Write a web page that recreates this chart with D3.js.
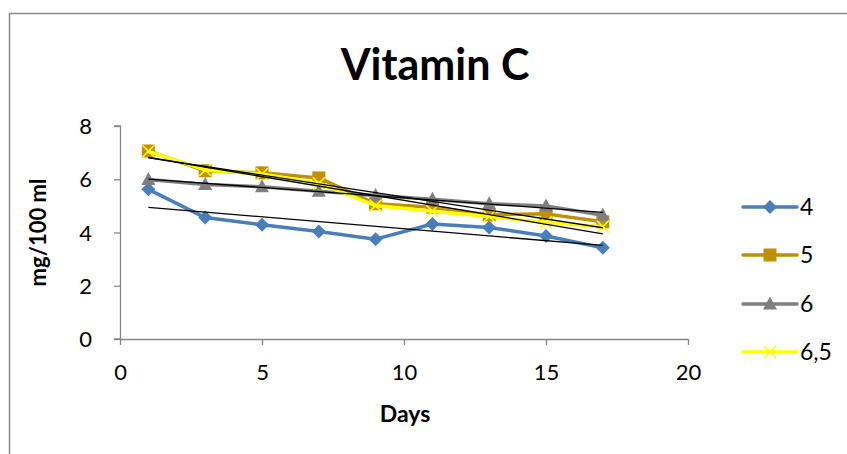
<!DOCTYPE html>
<html>
<head>
<meta charset="utf-8">
<script src="https://cdn.jsdelivr.net/npm/d3@7"></script>
<style>
  html, body { margin: 0; padding: 0; background: #fff; }
  svg { display: block; }
  text { font-family: Lato, "Open Sans", sans-serif; fill: #000; }
</style>
</head>
<body>
<svg id="chart" width="847" height="454"></svg>
<script>
// Storage days and vitamin C content (mg/100 ml) for each pH level
const days = [1, 3, 5, 7, 9, 11, 13, 15, 17];
const seriesNames = ["4", "5", "6", "6,5"];
const ph4  = [5.62, 4.56, 4.29, 4.04, 3.75, 4.32, 4.19, 3.87, 3.43];
const ph5  = [7.06, 6.32, 6.24, 6.05, 5.08, 4.95, 4.66, 4.70, 4.40];
const ph6  = [5.99, 5.80, 5.72, 5.55, 5.39, 5.25, 5.08, 5.00, 4.65];
const ph65 = [7.05, 6.35, 6.20, 5.85, 5.01, 4.80, 4.60, 4.38, 4.22];
const xTicks = [0, 5, 10, 15, 20];
const yTicks = [0, 2, 4, 6, 8];

const seriesValues = [ph4, ph5, ph6, ph65];
const colors = ["#4A7EBB", "#BF9000", "#7F7F7F", "#FFFF00"];
const markers = ["diamond", "square", "triangle", "cross"];

const svg = d3.select("#chart");

// outer chart frame
svg.append("rect")
  .attr("x", 9.5).attr("y", 13.5)
  .attr("width", 900).attr("height", 500)
  .attr("fill", "none").attr("stroke", "#8C8C8C").attr("stroke-width", 1.5);

const x = d3.scaleLinear().domain([0, 20]).range([120, 688]);
const y = d3.scaleLinear().domain([0, 8]).range([339, 126]);

// title
svg.append("text")
  .attr("x", 435).attr("y", 80)
  .attr("text-anchor", "middle")
  .attr("font-size", 43).attr("font-weight", "bold")
  .text("Vitamin C");

// axes
const xAxis = svg.append("g")
  .attr("transform", `translate(0,${y(0)})`)
  .call(d3.axisBottom(x).tickValues(xTicks).tickSize(6).tickPadding(8).tickFormat(d3.format("d")));
const yAxis = svg.append("g")
  .attr("transform", `translate(${x(0)},0)`)
  .call(d3.axisLeft(y).tickValues(yTicks).tickSize(6).tickPadding(22).tickFormat(d3.format("d")));

[xAxis, yAxis].forEach(g => {
  g.select(".domain").attr("stroke", "#868686").attr("stroke-width", 1.3);
  g.selectAll(".tick line").attr("stroke", "#868686").attr("stroke-width", 1.3);
  g.selectAll(".tick text")
    .attr("font-family", "Lato, 'Open Sans', sans-serif")
    .attr("font-size", 22).attr("fill", "#000");
});
// flat x-axis baseline with downward ticks; y-axis with outward ticks at both ends
xAxis.select(".domain").attr("d", `M${x(0)},0.5H${x(20)}`);
yAxis.select(".domain").attr("d", `M-6,${y(0)}H0.5V${y(8)}H-6`);
xAxis.selectAll(".tick text").attr("y", 33).attr("dy", "0.35em");
yAxis.selectAll(".tick text").attr("dy", "0.35em");

// axis titles
svg.append("text")
  .attr("x", 405).attr("y", 422)
  .attr("text-anchor", "middle")
  .attr("font-size", 23).attr("font-weight", "bold")
  .text("Days");
svg.append("text")
  .attr("transform", `translate(46,${(y(0) + y(8)) / 2}) rotate(-90)`)
  .attr("text-anchor", "middle")
  .attr("font-size", 22).attr("font-weight", "bold")
  .text("mg/100 ml");

// marker shapes
function drawMarker(g, type, color, cx, cy) {
  if (type === "diamond") {
    g.append("path")
      .attr("d", `M${cx},${cy - 7}L${cx + 7},${cy}L${cx},${cy + 7}L${cx - 7},${cy}Z`)
      .attr("fill", color);
  } else if (type === "square") {
    g.append("rect")
      .attr("x", cx - 6.5).attr("y", cy - 6.5).attr("width", 13).attr("height", 13)
      .attr("fill", color);
  } else if (type === "triangle") {
    g.append("path")
      .attr("d", `M${cx},${cy - 7.5}L${cx + 7},${cy + 5.5}L${cx - 7},${cy + 5.5}Z`)
      .attr("fill", color);
  } else {
    g.append("path")
      .attr("d", `M${cx - 6},${cy - 6}L${cx + 6},${cy + 6}M${cx + 6},${cy - 6}L${cx - 6},${cy + 6}`)
      .attr("stroke", color).attr("stroke-width", 1.5).attr("fill", "none");
  }
}

const line = d3.line().x(d => x(d[0])).y(d => y(d[1]));
const plot = svg.append("g");

seriesValues.forEach((vals, i) => {
  const pts = days.map((d, j) => [d, vals[j]]);
  const g = plot.append("g");
  g.append("path")
    .datum(pts)
    .attr("d", line)
    .attr("fill", "none")
    .attr("stroke", colors[i])
    .attr("stroke-width", 3.5)
    .attr("stroke-linejoin", "round");
  pts.forEach(p => drawMarker(g, markers[i], colors[i], x(p[0]), y(p[1])));
});

// linear trendlines (least squares) over the measured range
const trend = svg.append("g");
seriesValues.forEach(vals => {
  const n = days.length;
  const mx = d3.mean(days), my = d3.mean(vals);
  let sxy = 0, sxx = 0;
  days.forEach((d, j) => { sxy += (d - mx) * (vals[j] - my); sxx += (d - mx) * (d - mx); });
  const slope = sxy / sxx, icpt = my - slope * mx;
  const x0 = days[0], x1 = days[n - 1];
  trend.append("line")
    .attr("x1", x(x0)).attr("y1", y(icpt + slope * x0))
    .attr("x2", x(x1)).attr("y2", y(icpt + slope * x1))
    .attr("stroke", "#000").attr("stroke-width", 1.3);
});

// legend
const legendY = [207, 255, 304, 352];
seriesNames.forEach((name, i) => {
  const g = svg.append("g");
  const ly = legendY[i];
  g.append("line")
    .attr("x1", 743).attr("x2", 797).attr("y1", ly).attr("y2", ly)
    .attr("stroke", colors[i]).attr("stroke-width", 3.5).attr("stroke-linecap", "round");
  drawMarker(g, markers[i], colors[i], 770, ly);
  g.append("text")
    .attr("x", 800).attr("y", ly).attr("dy", "0.35em")
    .attr("font-size", 23)
    .text(name);
});
</script>
</body>
</html>
